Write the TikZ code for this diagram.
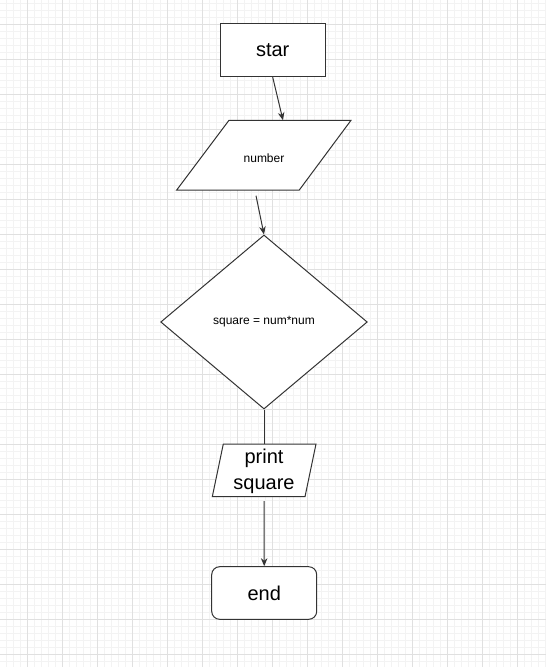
\documentclass[tikz,border=0pt]{standalone}
\usepackage{fontspec}
\setmainfont{Liberation Sans}
\usetikzlibrary{shapes.geometric,arrows.meta}
\definecolor{gridmajor}{HTML}{E0E0E0}
\definecolor{gridminor}{HTML}{F3F3F3}
\definecolor{ln}{HTML}{333333}
\begin{document}
\begin{tikzpicture}[x=1pt,y=-1pt,
  shapeline/.style={draw=ln,line width=1pt,fill=white},
  big/.style={font=\fontsize{20}{26}\selectfont},
  small/.style={font=\fontsize{12}{14}\selectfont},
  arr/.style={draw=ln,line width=1pt,-{Stealth[length=8pt,width=6.5pt]}},
  conn/.style={draw=ln,line width=1pt}]
\fill[white] (0,0) rectangle (546,667);
\useasboundingbox (0,0) rectangle (546,667);
% grid
\foreach \i in {0,...,77} \draw[gridminor,line width=0.7pt] ({6.3+7*\i},0) -- ++(0,667);
\foreach \i in {0,...,95} \draw[gridminor,line width=0.7pt] (0,{3+7*\i}) -- ++(546,0);
\foreach \i in {0,...,14} \draw[gridmajor,line width=0.9pt] ({27.3+35*\i},0) -- ++(0,667);
\foreach \i in {0,...,18} \draw[gridmajor,line width=0.9pt] (0,{24+35*\i}) -- ++(546,0);
% shapes
\node[shapeline, rectangle, minimum width=105pt, minimum height=52.7pt, inner sep=0pt, big] (star) at (272.7,50.3) {star};
\draw[shapeline] (229,120.3) -- (351,120.3) -- (299.3,190) -- (176.7,190) -- cycle;
\node[small, inner sep=0pt] (number) at (264,158) {number};
\coordinate (numin) at (283,120.3);
\coordinate (numout) at (256,195.7);
\node[shapeline, diamond, minimum width=206.6pt, minimum height=174pt, inner sep=0pt, small] (calc) at (264,322) {square = num*num};
\draw[shapeline] (223.3,444) -- (316,444) -- (305,496.7) -- (212.3,496.7) -- cycle;
\node[big, align=center, inner sep=0pt] (print) at (264,471.5) {print\\square};
\coordinate (printin) at (264,444);
\coordinate (printout) at (264,501);
\node[shapeline, rectangle, rounded corners=8pt, minimum width=105pt, minimum height=52.6pt, inner sep=0pt, big] (end) at (264.2,593) {end};
% connectors
\draw[arr] (star.south) -- (numin);
\draw[arr] (numout) -- (calc.north);
\draw[conn] (calc.south) -- (printin);
\draw[arr] (printout) -- (end.north);
\end{tikzpicture}
\end{document}
